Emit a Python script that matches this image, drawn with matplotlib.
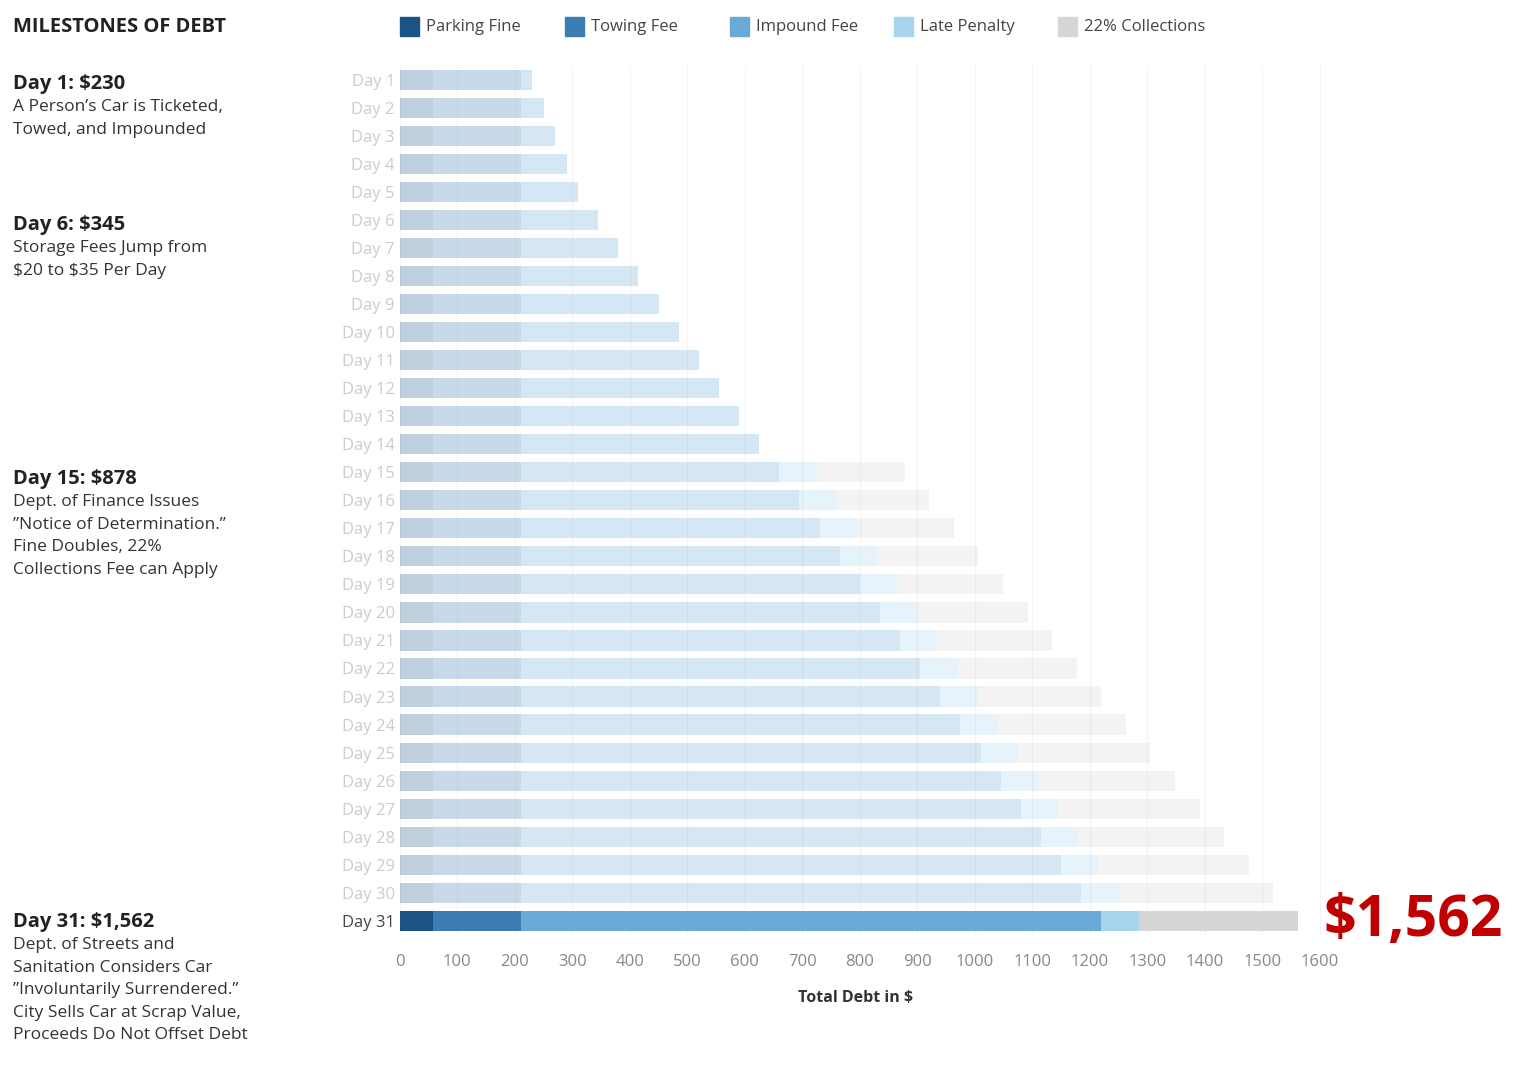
import matplotlib
matplotlib.use("Agg")
import matplotlib.pyplot as plt
from matplotlib.patches import Rectangle

days = [f"Day {i}" for i in range(1, 32)]
parking = [58] * 31
towing = [152] * 31
impound = [20, 40, 60, 80, 100] + [100 + 35 * k for k in range(1, 27)]
late = [0] * 14 + [65] * 17
collections = [0] * 14 + [153, 161, 169, 176, 184, 192, 199, 207, 215, 223, 230, 238, 246, 253, 261, 269, 277]
series = [("Parking Fine", parking, "#1c5385"), ("Towing Fee", towing, "#3b7db2"),
          ("Impound Fee", impound, "#6baad6"), ("Late Penalty", late, "#a8d5ee"),
          ("22% Collections", collections, "#d6d6d6")]
total_label = r"\$1,562"

plt.rcParams['font.family'] = ['Open Sans', 'DejaVu Sans']
fig = plt.figure(figsize=(15.26, 10.77), dpi=100)
ax = fig.add_axes([0.262, 0.132, 0.728, 0.807])
n = len(days)
ys = list(range(n))
left = [0] * n
for name, vals, col in series:
    for i in range(n):
        a = 1.0 if i == n - 1 else 0.28
        if vals[i] > 0:
            ax.barh(i, vals[i], left=left[i], height=0.72, color=col, alpha=a, linewidth=0)
    left = [l + v for l, v in zip(left, vals)]
ax.set_ylim(n - 0.5, -0.5)
ax.set_xlim(0, 1932)
ax.set_xticks(range(0, 1700, 100))
ax.tick_params(axis='x', colors='#888888', labelsize=12, length=0, pad=14)
ax.set_yticks(ys)
ax.set_yticklabels(days, fontsize=12)
ax.tick_params(axis='y', length=0)
for i, t in enumerate(ax.get_yticklabels()):
    t.set_color('#444444' if i == n - 1 else '#cccccc')
ax.set_xlabel("Total Debt in $", fontsize=11.5, fontweight='bold', color='#333333', x=0.41, labelpad=14)
for s in ax.spines.values():
    s.set_visible(False)
ax.grid(axis='x', color='#f3f3f3', lw=0.8)
ax.set_axisbelow(True)
ax.text(left[-1] + 45, n - 1, total_label, color='#c00000', fontsize=41, fontweight='bold', va='center')

fig.text(13 / 1526, 1 - 27 / 1077, "MILESTONES OF DEBT", fontsize=14.5, fontweight='bold', va='center', color='#222222')
notes = [(84, r"Day 1: \$230", "A Person\u2019s Car is Ticketed,\nTowed, and Impounded"),
         (225, r"Day 6: \$345", r"Storage Fees Jump from" + "\n" + r"\$20 to \$35 Per Day"),
         (479, r"Day 15: \$878", "Dept. of Finance Issues\n\u201dNotice of Determination.\u201d\nFine Doubles, 22%\nCollections Fee can Apply"),
         (922, r"Day 31: \$1,562", "Dept. of Streets and\nSanitation Considers Car\n\u201dInvoluntarily Surrendered.\u201d\nCity Sells Car at Scrap Value,\nProceeds Do Not Offset Debt")]
for y, h, b in notes:
    fig.text(13 / 1526, 1 - y / 1077, h, fontsize=14.5, fontweight='bold', va='center', color='#222222')
    fig.text(13 / 1526, 1 - (y + 15) / 1077, b, fontsize=12.5, va='top', color='#333333', linespacing=1.55)

lx = [400, 565, 730, 894, 1058]
for x, (name, vals, col) in zip(lx, series):
    fig.patches.append(Rectangle((x / 1526, 1 - 36 / 1077), 19 / 1526, 19 / 1077, color=col, transform=fig.transFigure))
    fig.text((x + 26) / 1526, 1 - 27 / 1077, name, fontsize=12, va='center', color='#444444')

fig.savefig("out.png", dpi=100)
